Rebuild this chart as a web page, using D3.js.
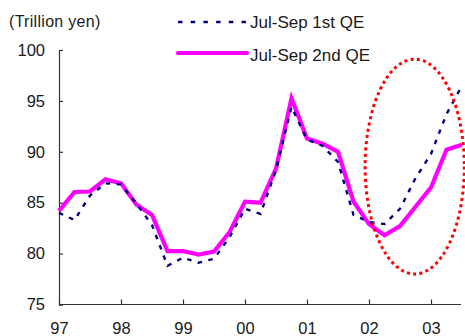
<!DOCTYPE html>
<html>
<head>
<meta charset="utf-8">
<script src="https://cdn.jsdelivr.net/npm/d3@7/dist/d3.min.js"></script>
<style>
  html, body { margin: 0; padding: 0; background: #fff; }
  svg { display: block; font-family: "Liberation Sans", Arial, sans-serif; }
</style>
</head>
<body>
<svg id="chart" width="465" height="336"></svg>
<script>
// ---- data ----
const yearLabels = ["97", "98", "99", "00", "01", "02", "03"];
const quarterIndex = d3.range(27); // 1997 Q1 .. 2003 Q3
const firstQE = [84.0, 83.3, 85.7, 86.9, 86.8, 84.9, 82.8, 78.8, 79.6, 79.1, 79.5, 81.6, 84.4, 83.9,
                 88.2, 94.4, 91.2, 90.6, 89.0, 83.8, 83.1, 82.9, 84.4, 87.4, 89.8, 93.7, 96.5];
const secondQE = [84.2, 86.05, 86.1, 87.3, 86.9, 84.8, 83.8, 80.25, 80.25, 79.9, 80.2, 82.1, 85.1, 85.0,
                  88.35, 95.25, 91.3, 90.8, 90.0, 85.1, 82.9, 81.8, 82.7, 84.6, 86.5, 90.2, 90.7];
const yTicks = [75, 80, 85, 90, 95, 100];
const seriesNames = ["Jul-Sep 1st QE", "Jul-Sep 2nd QE"];
const unitLabel = "(Trillion yen)";
// highlighted region (quarter index range, value range)
const highlightX = [19.75, 26.15];
const highlightY = [78.0, 99.1];

// ---- drawing ----
const svg = d3.select("#chart");
const x = d3.scaleLinear().domain([0, 26]).range([59, 462]);
const y = d3.scaleLinear().domain([75, 100]).range([304.5, 50]);
const textColor = "#1a1a1a";

// y axis
const yAxis = d3.axisLeft(y).tickValues(yTicks).tickSize(-4).tickPadding(14).tickFormat(d3.format("d"));
const gy = svg.append("g").attr("transform", `translate(${x(0)},0)`).call(yAxis);
gy.select(".domain").attr("stroke", "#333").attr("stroke-width", 1.2);
gy.selectAll(".tick line").attr("stroke", "#333").attr("stroke-width", 1.2);
gy.selectAll(".tick text").attr("font-size", 16.5).attr("fill", textColor)
  .attr("font-family", "'Liberation Sans', Arial, sans-serif");

// x axis
const xAxis = d3.axisBottom(x).tickValues(d3.range(0, 25, 4)).tickSize(-5).tickPadding(18)
  .tickFormat((d, i) => yearLabels[i]);
const gx = svg.append("g").attr("transform", `translate(0,${y(75)})`).call(xAxis);
gx.select(".domain").attr("stroke", "#333").attr("stroke-width", 1.2)
  .attr("d", `M${x(0)},0H${x(26) - 1}`);
gx.selectAll(".tick line").attr("stroke", "#333").attr("stroke-width", 1.2);
gx.selectAll(".tick text").attr("font-size", 16.5).attr("fill", textColor)
  .attr("font-family", "'Liberation Sans', Arial, sans-serif");

// lines
const line = d3.line().x((d, i) => x(quarterIndex[i])).y(d => y(d));
svg.append("path").datum(secondQE).attr("d", line)
  .attr("fill", "none").attr("stroke", "#ff00ff").attr("stroke-width", 4.2)
  .attr("stroke-linejoin", "miter");
svg.append("path").datum(firstQE).attr("d", line)
  .attr("fill", "none").attr("stroke", "#000080").attr("stroke-width", 2.4)
  .attr("stroke-dasharray", "4.5,6.5");

// highlight ellipse
svg.append("ellipse")
  .attr("cx", (x(highlightX[0]) + x(highlightX[1])) / 2)
  .attr("cy", (y(highlightY[0]) + y(highlightY[1])) / 2)
  .attr("rx", (x(highlightX[1]) - x(highlightX[0])) / 2)
  .attr("ry", (y(highlightY[0]) - y(highlightY[1])) / 2)
  .attr("fill", "none").attr("stroke", "#ff0000").attr("stroke-width", 3)
  .attr("stroke-dasharray", "3,3.3");

// unit label
svg.append("text").attr("x", 9).attr("y", 27).attr("font-size", 16).attr("fill", textColor)
  .attr("letter-spacing", 0.3)
  .text(unitLabel);

// legend
const legend = svg.append("g");
legend.append("line").attr("x1", 178).attr("x2", 246).attr("y1", 22).attr("y2", 22)
  .attr("stroke", "#000080").attr("stroke-width", 2.4).attr("stroke-dasharray", "4.5,8.2");
legend.append("text").attr("x", 250).attr("y", 27.5).attr("font-size", 17).attr("fill", textColor)
  .text(seriesNames[0]);
legend.append("line").attr("x1", 178).attr("x2", 247).attr("y1", 53).attr("y2", 53)
  .attr("stroke", "#ff00ff").attr("stroke-width", 4.2).attr("stroke-linecap", "round");
legend.append("text").attr("x", 250).attr("y", 61).attr("font-size", 17).attr("fill", textColor)
  .text(seriesNames[1]);
</script>
</body>
</html>
